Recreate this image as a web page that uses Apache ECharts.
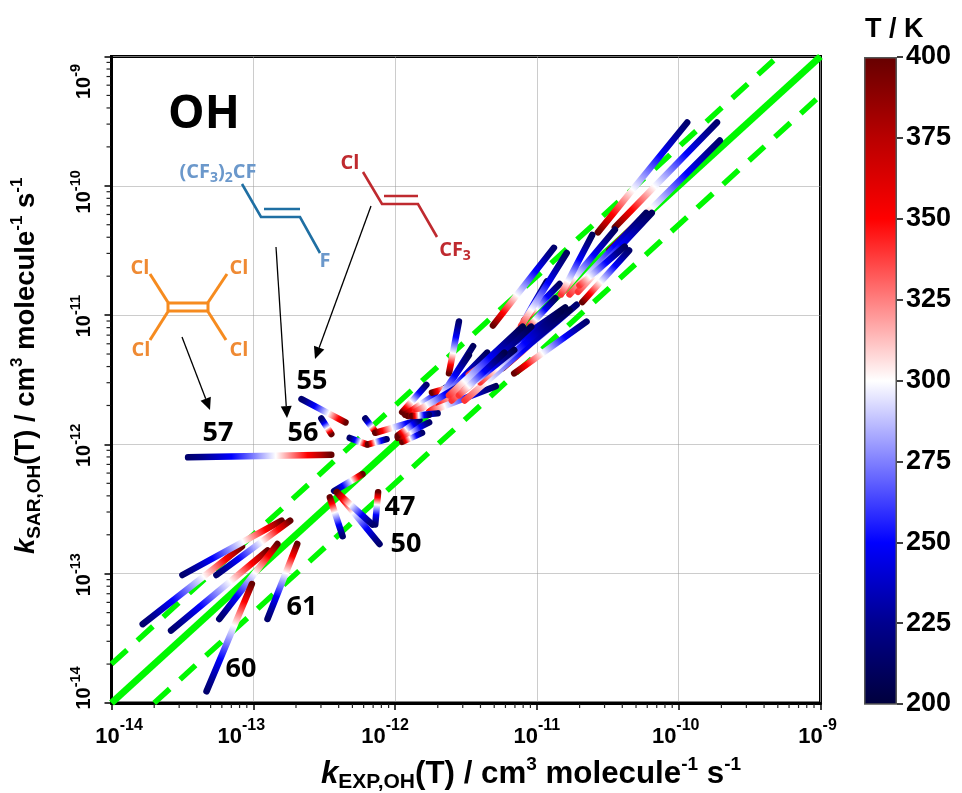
<!DOCTYPE html>
<html><head><meta charset="utf-8">
<style>html,body{margin:0;padding:0;background:#fff}#c{width:962px;height:793px}</style>
<script src="https://cdn.jsdelivr.net/npm/echarts@6/dist/echarts.min.js"></script>
</head><body><div id="c"></div>
<script>
// Each row: log10 kEXP (cold end), log10 kSAR (cold end), T cold, log10 kEXP (hot end), log10 kSAR (hot end), T hot
const outlierRows = [
  [-13.46,-12.10,215,-12.45,-12.08,400],
  [-12.66,-11.65,215,-12.35,-11.83,400],
  [-12.52,-11.80,215,-12.45,-11.92,400],
  [-12.32,-11.95,215,-12.20,-12.00,400],
  [-12.06,-11.96,215,-12.19,-12.00,400],
  [-12.21,-11.80,215,-12.14,-11.90,400],
  [-11.83,-11.81,215,-12.14,-11.91,400],
  [-12.43,-12.36,215,-12.23,-12.23,400],
  [-12.37,-12.71,215,-12.46,-12.41,400],
  [-12.14,-12.62,215,-12.12,-12.37,400],
  [-12.11,-12.77,215,-12.41,-12.37,400],
  [-12.16,-12.62,215,-12.41,-12.37,400]
];
const lowRows = [
  [-13.78,-13.39,215,-13.08,-12.79,400],
  [-13.58,-13.44,215,-12.90,-12.82,400],
  [-13.50,-13.01,215,-12.80,-12.59,400],
  [-13.26,-13.01,215,-12.74,-12.59,400],
  [-13.24,-13.35,215,-12.83,-12.77,400],
  [-13.33,-13.91,215,-13.01,-13.08,400],
  [-12.90,-13.35,215,-12.69,-12.77,400]
];
const midRows = [
  [-11.78,-11.54,215,-11.95,-11.75,400],
  [-11.64,-11.56,215,-11.93,-11.77,400],
  [-11.49,-11.52,215,-11.74,-11.60,400],
  [-11.55,-11.05,215,-11.62,-11.45,400],
  [-11.45,-11.24,210,-11.72,-11.71,360],
  [-11.48,-11.31,210,-11.74,-11.73,360],
  [-11.35,-11.29,210,-11.76,-11.75,350],
  [-11.23,-11.27,210,-11.69,-11.70,345],
  [-11.29,-11.55,210,-11.76,-11.75,345],
  [-11.50,-11.52,210,-11.86,-11.75,345],
  [-11.98,-11.94,215,-11.91,-11.89,400],
  [-11.81,-11.91,215,-11.95,-11.98,400],
  [-11.76,-11.83,215,-11.98,-11.95,400],
  [-11.83,-11.81,215,-11.98,-11.93,400],
  [-11.70,-11.76,215,-11.91,-11.78,400],
  [-11.76,-11.77,215,-11.88,-11.78,400]
];
const upperRows = [
  [-10.88,-10.48,215,-11.31,-11.08,400],
  [-10.65,-11.05,215,-11.16,-11.45,400],
  [-10.72,-10.92,215,-11.24,-11.41,400],
  [-10.93,-10.74,210,-11.19,-11.23,385],
  [-10.84,-10.76,210,-11.09,-11.04,385],
  [-10.79,-10.52,210,-11.11,-11.08,340],
  [-10.87,-10.87,210,-11.05,-11.08,340],
  [-10.77,-10.96,205,-11.51,-11.66,340],
  [-10.80,-10.94,205,-11.48,-11.46,340],
  [-10.83,-10.97,205,-11.40,-11.52,340],
  [-11.04,-11.09,205,-11.60,-11.66,340],
  [-11.10,-11.09,205,-11.62,-11.62,340],
  [-11.16,-11.27,205,-11.51,-11.58,340],
  [-11.23,-11.29,205,-11.55,-11.62,340]
];
const highRows = [
  [-9.94,-9.51,215,-10.57,-10.36,400],
  [-9.73,-9.51,215,-10.45,-10.32,400],
  [-10.35,-10.50,215,-10.68,-10.90,400],
  [-9.71,-9.65,215,-10.49,-10.50,400],
  [-10.23,-10.21,210,-10.77,-10.84,340],
  [-10.19,-10.21,210,-10.71,-10.82,340],
  [-10.45,-10.34,210,-10.81,-10.81,340],
  [-10.61,-10.38,210,-10.83,-10.84,340],
  [-10.38,-10.47,210,-10.70,-10.77,340]
];
const axisMin = 1e-14, axisMax = 1e-9;
const parityLine = [[1e-14,1e-14],[1e-9,1e-9]];
const upperBound = [[1e-14,2e-14],[5e-10,1e-9]];
const lowerBound = [[2e-14,1e-14],[1e-9,5e-10]];
const decades = [1e-14,1e-13,1e-12,1e-11,1e-10];
const minorMultipliers = [2,3,4,5,6,7,8,9];
const cmapTemps  = [200,225,250,300,350,375,400];
const cmapColors = ['#00003c','#00008e','#0000ff','#ffffff','#ff0000','#b90000','#660000'];

const SANS='"Liberation Sans",Arial,sans-serif', OPEN='"Open Sans",sans-serif';
const segments = [...outlierRows,...lowRows,...midRows,...upperRows,...highRows]
  .map(r=>[10**r[0],10**r[1],r[2],10**r[3],10**r[4],r[5]]);
const minorTicks = decades.flatMap(d=>minorMultipliers.map(m=>[d*m]));

function hexMix(a,b,t){
  const p=s=>[1,3,5].map(i=>parseInt(s.substr(i,2),16));
  const A=p(a),B=p(b);
  return 'rgb('+A.map((v,i)=>Math.round(v+(B[i]-v)*t)).join(',')+')';
}
function tempColor(T){
  for(let i=0;i<cmapTemps.length-1;i++){
    if(T<=cmapTemps[i+1]) return hexMix(cmapColors[i],cmapColors[i+1],(T-cmapTemps[i])/(cmapTemps[i+1]-cmapTemps[i]));
  }
  return cmapColors[cmapColors.length-1];
}
// position along a track runs linearly in 1/T (Arrhenius-like)
function trackStops(T0,T1){
  const Ts=[T0,...cmapTemps.filter(t=>t>T0&&t<T1),T1];
  return Ts.map(t=>({offset:(1/T0-1/t)/(1/T0-1/T1),color:tempColor(t)}));
}
function renderTrack(params,api){
  const a=api.coord([api.value(0),api.value(1)]), b=api.coord([api.value(3),api.value(4)]);
  return {type:'line',shape:{x1:a[0],y1:a[1],x2:b[0],y2:b[1]},
    style:{lineWidth:6.5,lineCap:'round',fill:null,
      stroke:new echarts.graphic.LinearGradient(a[0],a[1],b[0],b[1],trackStops(api.value(2),api.value(5)),true)}};
}
function renderMinorX(params,api){
  const p=api.coord([api.value(0),axisMin]);
  return {type:'line',shape:{x1:p[0],y1:p[1]+1,x2:p[0],y2:p[1]+5},style:{stroke:'#222',lineWidth:1.2}};
}
function renderMinorY(params,api){
  const p=api.coord([axisMin,api.value(0)]);
  return {type:'line',shape:{x1:p[0]-1,y1:p[1],x2:p[0]-5,y2:p[1]},style:{stroke:'#222',lineWidth:1.2}};
}
const exp=v=>Math.round(Math.log10(v));
const xShift={'-14':[0,15],'-13':[24,0],'-12':[20,0],'-11':[0,0],'-10':[6,0],'-9':[6,0]};
const yShift={'-14':[0,30],'-13':[2,0],'-12':[2,0],'-11':[2,0],'-10':[12,0],'-9':[50,0]};
function tickRich(shift,big,small,h){
  const rich={};
  Object.keys(shift).forEach(k=>{
    const id=k.replace('-','m');
    rich['b'+id]={fontFamily:SANS,fontWeight:'bold',fontSize:big,color:'#000',lineHeight:h,verticalAlign:'bottom',padding:[0,0,0,shift[k][1]]};
    rich['s'+id]={fontFamily:SANS,fontWeight:'bold',fontSize:small,color:'#000',lineHeight:small,verticalAlign:'top',padding:[0,shift[k][0],0,0]};
  });
  return rich;
}
const tickFmt=v=>{const e=exp(v),id=String(e).replace('-','m');return `{b${id}|10}{s${id}|${e}}`;};
function titleRich(fs,sub,sup,h){
  return {
    i:{fontFamily:SANS,fontWeight:'bold',fontStyle:'italic',fontSize:fs,lineHeight:h,verticalAlign:'middle',color:'#000'},
    n:{fontFamily:SANS,fontWeight:'bold',fontSize:fs,lineHeight:h,verticalAlign:'middle',color:'#000'},
    sub:{fontFamily:SANS,fontWeight:'bold',fontSize:sub,lineHeight:sub,verticalAlign:'bottom',color:'#000'},
    sup:{fontFamily:SANS,fontWeight:'bold',fontSize:sup,lineHeight:sup,verticalAlign:'top',color:'#000'}
  };
}
function logAxis(extra){
  return Object.assign({type:'log',logBase:10,min:axisMin,max:axisMax,splitNumber:5,
    axisLine:{show:true,onZero:false,lineStyle:{color:'#000',width:3}},
    axisTick:{show:true,length:7,lineStyle:{color:'#000',width:1.5}},
    splitLine:{show:true,lineStyle:{color:'#999',width:1,type:'dotted'}}
  },extra);
}
// ---- annotation drawing (structures, arrows, labels) ----
function poly(pts,color,w){return {type:'polyline',silent:true,shape:{points:pts},style:{stroke:color,lineWidth:w,fill:null,lineJoin:'miter'},z:20};}
function txt(x,y,t,color,size,extra){return {type:'text',silent:true,x,y,z:21,style:Object.assign({text:t,fill:color,font:`bold ${size}px ${OPEN}`,align:'center',verticalAlign:'middle'},extra||{})};}
function arrow(x0,y0,x1,y1){
  const a=Math.atan2(y1-y0,x1-x0),L=12,W=5.5,bx=x1-L*Math.cos(a),by=y1-L*Math.sin(a);
  return [poly([[x0,y0],[bx,by]],'#000',1.3),
    {type:'polygon',silent:true,z:20,shape:{points:[[x1,y1],[bx-W*Math.sin(a),by+W*Math.cos(a)],[bx+W*Math.sin(a),by-W*Math.cos(a)]]},style:{fill:'#000'}}];
}
function chemRich(color,fs,sub){return {a:{font:`bold ${fs}px ${OPEN}`,fill:color,color,verticalAlign:'middle',lineHeight:fs+6},s:{font:`bold ${sub}px ${OPEN}`,fill:color,color,verticalAlign:'bottom',lineHeight:sub}};}
const BLUE='#1f6fa3',BLUET='#6b98cb',RED='#bf2a2f',ORANGE='#f68b1f',ORT='#ef8a33';
const graphics=[
  txt(204,115,'OH','#000',46),
  poly([[242,184],[261,217],[300,217],[320,253]],BLUE,2.6),poly([[264,209],[300,209]],BLUE,2.6),
  {type:'text',silent:true,x:218,y:172,z:21,style:{text:'{a|(CF}{s|3}{a|)}{s|2}{a|CF}',rich:chemRich(BLUET,20,14),align:'center',verticalAlign:'middle'}},
  txt(325,261,'F',BLUET,20),
  poly([[363,172],[382,204],[418,204],[437,237]],RED,2.6),poly([[384,196],[418,196]],RED,2.6),
  txt(350,163,'Cl',RED,20),
  {type:'text',silent:true,x:455,y:250,z:21,style:{text:'{a|CF}{s|3}',rich:chemRich(RED,20,14),align:'center',verticalAlign:'middle'}},
  poly([[168,303],[208,303]],ORANGE,3),poly([[168,311],[208,311]],ORANGE,3),
  poly([[168,303],[168,311]],ORANGE,3),poly([[208,303],[208,311]],ORANGE,3),
  poly([[150,274],[169,304]],ORANGE,3),poly([[227,274],[207,304]],ORANGE,3),
  poly([[150,340],[169,310]],ORANGE,3),poly([[226,340],[207,310]],ORANGE,3),
  txt(140,268,'Cl',ORT,20),txt(239,268,'Cl',ORT,20),txt(141,350,'Cl',ORT,20),txt(239,350,'Cl',ORT,20),
  ...arrow(182,337,210,410),...arrow(276,247,287,418),...arrow(371,206,315,359),
  txt(312,381,'55','#000',27),txt(303,433,'56','#000',27),txt(218,433,'57','#000',27),
  txt(400,507,'47','#000',27),txt(406,544,'50','#000',27),txt(302,607,'61','#000',27),txt(241,669,'60','#000',27)
];

const barStops=cmapTemps.map((t,i)=>({offset:(400-t)/200,color:cmapColors[i]})).reverse();

const option={
  animation:false,
  backgroundColor:'#fff',
  grid:[
    {left:111.5,top:56.5,width:709,height:646.5,show:true,borderColor:'#000',borderWidth:3,backgroundColor:'#fff',outerBoundsMode:'none',containLabel:false},
    {left:864,top:57,width:33,height:647,outerBoundsMode:'none',containLabel:false}
  ],
  xAxis:[
    logAxis({gridIndex:0,name:'{i|k}{sub|EXP,OH}{n|(T) / cm}{sup|3}{n| molecule}{sup|-1}{n| s}{sup|-1}',
      nameLocation:'middle',nameGap:52,
      nameTextStyle:{padding:[0,0,0,130],rich:titleRich(31.3,21,19,38)},
      axisLabel:{margin:15,formatter:tickFmt,rich:tickRich(xShift,22,16,30)}}),
    {type:'category',gridIndex:1,data:['T'],show:false}
  ],
  yAxis:[
    logAxis({gridIndex:0,name:'{i|k}{sub|SAR,OH}{n|(T) / cm}{sup|3}{n| molecule}{sup|-1}{n| s}{sup|-1}',
      nameLocation:'middle',nameGap:67,nameRotate:90,
      nameTextStyle:{padding:[0,0,0,28],rich:titleRich(27.5,19,17,36)},
      axisLabel:{margin:17,rotate:90,formatter:tickFmt,rich:tickRich(yShift,20,14.5,26)}}),
    {type:'value',gridIndex:1,position:'right',min:200,max:400,interval:25,
      name:'T / K',nameLocation:'end',nameGap:14,
      nameTextStyle:{fontFamily:SANS,fontWeight:'bold',fontSize:27,color:'#000',align:'left',padding:[0,0,0,-32]},
      axisLine:{show:false},
      axisTick:{show:true,length:6,lineStyle:{color:'#000',width:1.5}},
      splitLine:{show:false},
      axisLabel:{margin:9,fontFamily:SANS,fontWeight:'bold',fontSize:27,color:'#000'}}
  ],
  series:[
    {type:'line',name:'1:1',data:parityLine,xAxisIndex:0,yAxisIndex:0,symbol:'none',z:3,silent:true,lineStyle:{color:'#00f800',width:7}},
    {type:'line',name:'x2',data:upperBound,xAxisIndex:0,yAxisIndex:0,symbol:'none',z:3,silent:true,lineStyle:{color:'#00f800',width:5.5,type:[21,14]}},
    {type:'line',name:'/2',data:lowerBound,xAxisIndex:0,yAxisIndex:0,symbol:'none',z:3,silent:true,lineStyle:{color:'#00f800',width:5.5,type:[21,14]}},
    {type:'custom',name:'tracks',xAxisIndex:0,yAxisIndex:0,coordinateSystem:'cartesian2d',data:segments,renderItem:renderTrack,z:5,silent:true,encode:{x:[0,3],y:[1,4]}},
    {type:'custom',name:'minorX',xAxisIndex:0,yAxisIndex:0,data:minorTicks,renderItem:renderMinorX,z:1,silent:true,encode:{x:0}},
    {type:'custom',name:'minorY',xAxisIndex:0,yAxisIndex:0,data:minorTicks,renderItem:renderMinorY,z:1,silent:true,encode:{y:0}},
    {type:'bar',name:'T scale',xAxisIndex:1,yAxisIndex:1,data:[400],barWidth:'100%',silent:true,
      itemStyle:{borderColor:'#555',borderWidth:1.5,color:new echarts.graphic.LinearGradient(0,0,0,1,barStops)}}
  ],
  graphic:graphics
};
const chart=echarts.init(document.getElementById('c'),null,{renderer:'canvas'});
chart.setOption(option);
</script></body></html>
